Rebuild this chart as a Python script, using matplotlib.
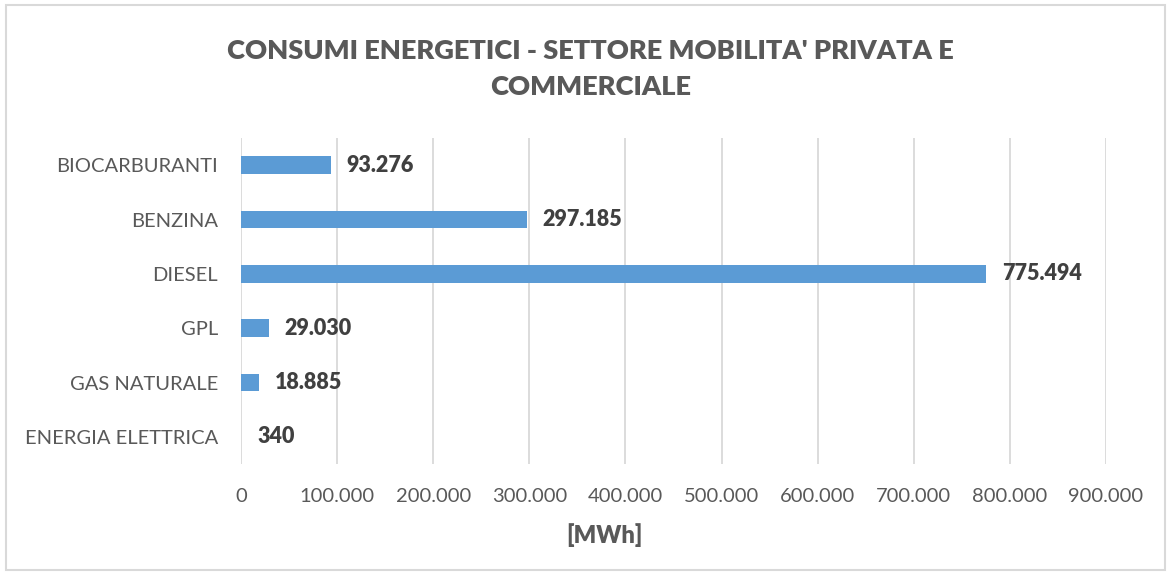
import matplotlib
matplotlib.use("Agg")
import matplotlib.pyplot as plt
from matplotlib.patches import Rectangle
from matplotlib.ticker import FuncFormatter

categories = ["ENERGIA ELETTRICA", "GAS NATURALE", "GPL", "DIESEL", "BENZINA", "BIOCARBURANTI"]
values = [340, 18885, 29030, 775494, 297185, 93276]
xticks = [0, 100000, 200000, 300000, 400000, 500000, 600000, 700000, 800000, 900000]

plt.rcParams['font.family'] = ['Lato', 'DejaVu Sans']

def fmt(v):
    return f"{int(v):,}".replace(",", ".")

fig = plt.figure(figsize=(11.71, 5.75), dpi=100)
fig.patches.append(Rectangle((0.005, 0.008), 0.99, 0.984, transform=fig.transFigure,
                             fill=False, edgecolor="#d9d9d9", linewidth=1.5))
ax = fig.add_axes([0.2058, 0.193, 0.7387, 0.567])

y = list(range(len(categories)))
ax.barh(y, values, height=0.33, color="#5b9bd5", zorder=3)
for yi, v in zip(y, values):
    ax.text(v + 16500, yi, fmt(v), va="center", ha="left", fontsize=15.5,
            fontweight="heavy", color="#404040")

ax.set_xlim(0, 900000)
ax.set_ylim(-0.5, 5.5)
ax.set_xticks(xticks)
ax.xaxis.set_major_formatter(FuncFormatter(lambda v, p: fmt(v)))
ax.set_yticks(y)
ax.set_yticklabels(categories)
ax.tick_params(axis="both", length=0, labelsize=14.5, labelcolor="#595959")
ax.tick_params(axis="x", pad=17)
ax.tick_params(axis="y", pad=16.5)
ax.grid(axis="x", color="#d9d9d9", linewidth=1.3, zorder=0)
for s in ax.spines.values():
    s.set_visible(False)

fig.text(0.516, 0.069, "[MWh]", ha="center", va="center", fontsize=17,
         fontweight="heavy", color="#595959")
fig.text(0.504, 0.880, "CONSUMI ENERGETICI - SETTORE MOBILITA' PRIVATA E\nCOMMERCIALE",
         ha="center", va="center", fontsize=19.6, fontweight="heavy", color="#595959",
         linespacing=1.58)

fig.savefig("out.png", dpi=100)
